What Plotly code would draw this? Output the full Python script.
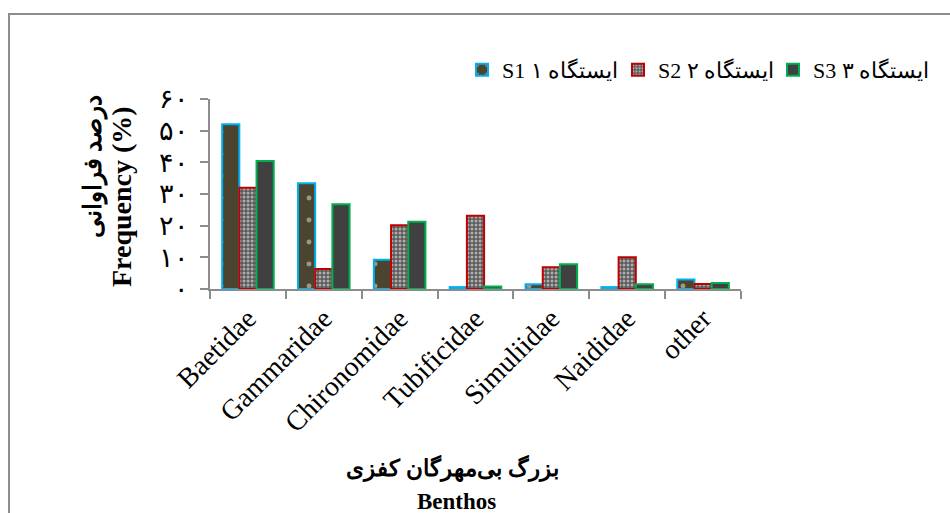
import plotly.graph_objects as go

# Benthic macroinvertebrate families
categories = ["Baetidae", "Gammaridae", "Chironomidae", "Tubificidae",
              "Simuliidae", "Naididae", "other"]

# Relative frequency (%) at each station
station1 = [52.0, 33.4, 9.2, 0.6, 1.5, 0.6, 3.0]
station2 = [32.0, 6.3, 20.1, 23.1, 6.9, 10.0, 1.6]
station3 = [40.4, 26.8, 21.2, 0.8, 7.8, 1.5, 1.9]

station_names = ["S1 ۱ ایستگاه", "S2 ۲ ایستگاه", "S3 ۳ ایستگاه"]

# Y axis ticks written with Persian digits
y_tickvals = [0, 10, 20, 30, 40, 50, 60]
y_ticktext = ["۰", "۱۰", "۲۰", "۳۰", "۴۰", "۵۰", "۶۰"]

FONT = "Liberation Serif, Times New Roman, serif"
AXIS_GRAY = "#8c8c8c"

W, H = 950, 513
L, R, T, B = 210, 209, 99, 224  # plot area spans x 210-741, y 99-289


def px_x(px):
    return (px - L) / (W - L - R)


def px_y(py):
    return (H - B - py) / (H - T - B)


fig = go.Figure()

fig.add_trace(go.Bar(
    x=categories, y=station1, name=station_names[0], legend="legend",
    marker=dict(color="#4b4530",
                line=dict(color="#00b0f0", width=2),
                pattern=dict(shape=".", fgcolor="#e8e8e8", size=22,
                             solidity=0.04, fillmode="overlay")),
))
fig.add_trace(go.Bar(
    x=categories, y=station2, name=station_names[1], legend="legend2",
    marker=dict(color="#5a5a5a",
                line=dict(color="#c00000", width=2),
                pattern=dict(shape=".", fgcolor="#ffffff", size=4,
                             solidity=0.45, fillmode="overlay")),
))
fig.add_trace(go.Bar(
    x=categories, y=station3, name=station_names[2], legend="legend3",
    marker=dict(color="#404040",
                line=dict(color="#00b050", width=2)),
))

# One legend box per station, laid out in a row above the plot
legend_style = dict(orientation="h", xanchor="left", y=px_y(70),
                    yanchor="middle", itemclick=False,
                    font=dict(family=FONT, size=22, color="black"),
                    bgcolor="rgba(0,0,0,0)")

fig.update_layout(
    width=W, height=H,
    margin=dict(l=L, r=R, t=T, b=B, autoexpand=False),
    paper_bgcolor="white", plot_bgcolor="white",
    barmode="group", bargap=0.32, bargroupgap=0,
    font=dict(family=FONT, size=22, color="black"),
    showlegend=True,
    legend=dict(x=px_x(462), **legend_style),
    legend2=dict(x=px_x(618), **legend_style),
    legend3=dict(x=px_x(773), **legend_style),
)

fig.update_xaxes(
    type="category", showgrid=False, zeroline=False,
    showline=True, linecolor=AXIS_GRAY, linewidth=2,
    ticks="outside", tickson="boundaries", ticklen=8,
    tickcolor=AXIS_GRAY, tickwidth=2,
    tickangle=-45, tickfont=dict(family=FONT, size=28, color="black"),
)
fig.update_yaxes(
    range=[0, 60], showgrid=False, zeroline=False,
    showline=True, linecolor=AXIS_GRAY, linewidth=2,
    ticks="outside", ticklen=8, tickcolor=AXIS_GRAY, tickwidth=2,
    tickvals=y_tickvals, ticktext=y_ticktext, ticklabelstandoff=6,
    tickfont=dict(family=FONT, size=27, color="black"),
)

# Axis titles (Persian and English lines)
fig.add_annotation(text="<b>درصد فراوانی</b>", textangle=-90,
                   xref="paper", yref="paper", x=px_x(93), y=px_y(167),
                   xanchor="center", yanchor="middle",
                   showarrow=False, font=dict(family=FONT, size=25))
fig.add_annotation(text="<b>Frequency (%)</b>", textangle=-90,
                   xref="paper", yref="paper", x=px_x(121), y=px_y(197),
                   xanchor="center", yanchor="middle",
                   showarrow=False, font=dict(family=FONT, size=28))
fig.add_annotation(text="<b>بزرگ بی‌مهرگان کفزی</b>",
                   xref="paper", yref="paper", x=px_x(452), y=px_y(468),
                   xanchor="center", yanchor="middle",
                   showarrow=False, font=dict(family=FONT, size=23))
fig.add_annotation(text="<b>Benthos</b>",
                   xref="paper", yref="paper", x=px_x(456), y=px_y(501),
                   xanchor="center", yanchor="middle",
                   showarrow=False, font=dict(family=FONT, size=23))

# Chart frame
fig.add_shape(type="rect", xref="paper", yref="paper",
              x0=px_x(9), x1=px_x(970), y0=px_y(540), y1=px_y(14),
              line=dict(color="#8c8c8c", width=2), fillcolor="rgba(0,0,0,0)",
              layer="below")

fig.write_html("out.html")
